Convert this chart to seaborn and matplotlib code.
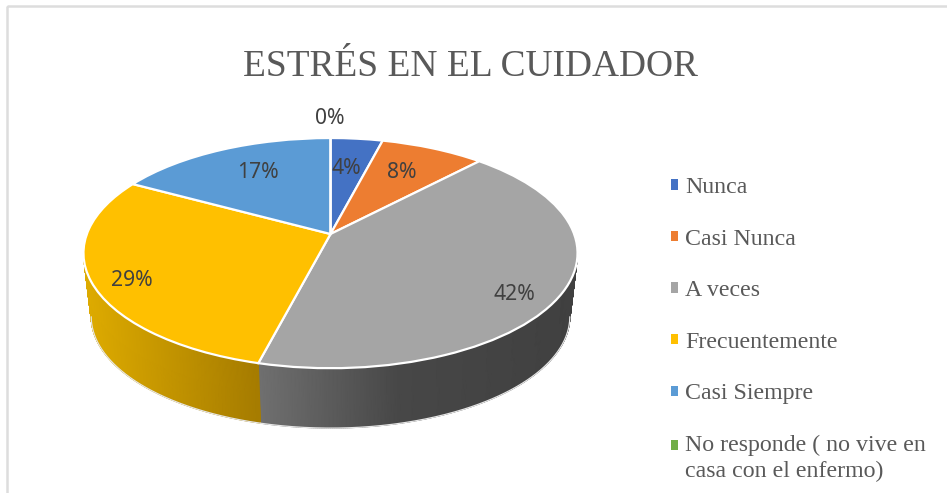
import numpy as np
import matplotlib
matplotlib.use("Agg")
import matplotlib.pyplot as plt
from matplotlib.patches import Patch, Rectangle
from matplotlib.transforms import Transform
from matplotlib.colors import LinearSegmentedColormap, Normalize
import seaborn as sns

# ---- data ----
categories = ["Nunca", "Casi Nunca", "A veces", "Frecuentemente", "Casi Siempre",
              "No responde ( no vive en\ncasa con el enfermo)"]
shares = [4, 8, 42, 29, 17, 0]
share_labels = ["4%", "8%", "42%", "29%", "17%", "0%"]
chart_title = "ESTRÉS EN EL CUIDADOR"
slice_colors = ["#4472C4", "#ED7D31", "#A5A5A5", "#FFC000", "#5B9BD5", "#70AD47"]

# ---- styling / layout ----
label_xy = [(346, 169), (402, 172.5), (514, 294), (132, 281), (258, 172), (330, 118.5)]
wall_shades = {2: [(258, "#707070"), (400, "#474747"), (577, "#404040")],
               3: [(85, "#DFAC00"), (258, "#A67C00")]}
TOP = (330.5, 234.0, 243.6, 111.9)     # centre x, centre y, x radius, y radius
BASE = (330.5, 298.0, 236.0, 108.5)
TILT = 0.166

sns.set_theme(style="white", palette=sns.color_palette(slice_colors))
plt.rcParams["font.family"] = ["Noto Sans", "DejaVu Sans"]


class Perspective(Transform):
    """Maps the unit pie disc onto the tilted disc seen in the chart."""
    input_dims = output_dims = 2

    def __init__(self, disc):
        super().__init__()
        self.disc = disc

    def transform_non_affine(self, values):
        cx, cy, rx, ry = self.disc
        v = np.asarray(values, dtype=float)
        d = 1 + TILT * v[:, 1]
        return np.column_stack([cx + rx * v[:, 0] / d, cy - ry * v[:, 1] / d])


fig = plt.figure(figsize=(9.47, 4.93), dpi=100, facecolor="white")
ax = fig.add_axes([0, 0, 1, 1])

wedges, _ = ax.pie(shares, colors=slice_colors, startangle=90, counterclock=False,
                   radius=1, frame=True,
                   wedgeprops=dict(edgecolor="white", linewidth=1.6, zorder=3))
ax.set_aspect("auto")
ax.set_xlim(0, 947)
ax.set_ylim(493, 0)
ax.axis("off")

top_map, base_map = Perspective(TOP), Perspective(BASE)
for w in wedges:
    w.set_transform(top_map + ax.transData)

# side wall: smooth shading between the rim of the top disc and that of the base,
# only on the front part of each slice (below the widest point of the disc)
for i, stops in wall_shades.items():
    w = wedges[i]
    xs_stop = [s[0] for s in stops]
    norm = Normalize(xs_stop[0], xs_stop[-1])
    cmap = LinearSegmentedColormap.from_list(
        f"wall{i}", [(norm(x), c) for x, c in stops])
    th = np.radians(np.linspace(w.theta1, w.theta2, 400))
    th = th[np.sin(th) <= -TILT]
    unit = np.column_stack([np.cos(th), np.sin(th)])
    upper, lower = top_map.transform(unit), base_map.transform(unit)
    X = np.vstack([upper[:, 0], lower[:, 0]])
    Y = np.vstack([upper[:, 1], lower[:, 1]])
    ax.pcolormesh(X, Y, X, cmap=cmap, norm=norm, shading="gouraud", zorder=1)
    ax.plot(lower[:, 0], lower[:, 1], color="#E6E6E6", lw=0.9, zorder=1.5)

# white seam between the walls of the grey and the yellow slices
seam_theta = np.radians(wedges[2].theta2)
seam = np.array([[np.cos(seam_theta), np.sin(seam_theta)]])
p0, p1 = top_map.transform(seam)[0], base_map.transform(seam)[0]
ax.plot([p0[0], p1[0]], [p0[1], p1[1]], color="white", lw=1.6, zorder=2)

# frame of the picture: its right and bottom edges fall outside the crop
ax.add_patch(Rectangle((6.5, 6), 960, 510, fill=False, edgecolor="#DDDDDD", linewidth=1.8, zorder=0))

for txt, (x, y) in zip(share_labels, label_xy):
    ax.text(x, y, txt, ha="center", va="center", fontsize=15.2, color="#404040", zorder=5)

ax.text(470, 66.5, chart_title, ha="center", va="center", fontsize=26.9,
        family=["Liberation Serif"], color="#595959")

handles = [Patch(facecolor=c, edgecolor="none") for c in slice_colors]
leg = ax.legend(handles, categories, loc="upper left", bbox_to_anchor=(671 / 947, 1 - 177 / 493),
                frameon=False, handlelength=0.29, handleheight=0.29, handletextpad=0.3,
                labelspacing=1.28, borderpad=0, borderaxespad=0,
                prop={"family": "Liberation Serif", "size": 17.2})
for t in leg.get_texts():
    t.set_color("#595959")
    t.set_linespacing(1.3)
last = leg.legend_handles[-1]
last.set_y(last.get_y() + 9.4)

fig.savefig("out.png", dpi=100, facecolor="white")
